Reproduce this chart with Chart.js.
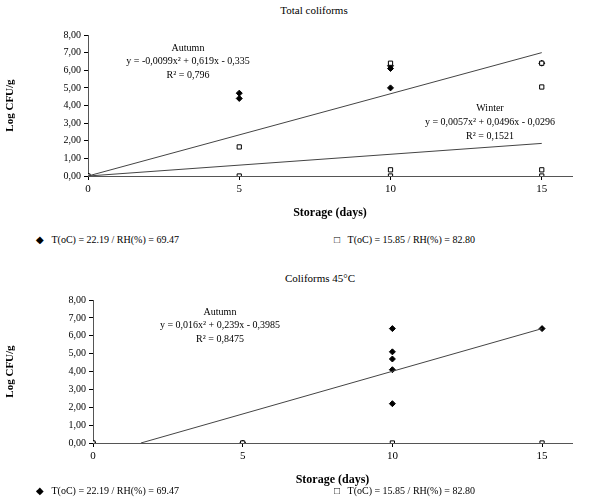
<!DOCTYPE html>
<html>
<head>
<meta charset="utf-8">
<script src="https://cdn.jsdelivr.net/npm/chart.js@4"></script>
<style>
  body { margin: 0; width: 600px; height: 500px; background: #fff; position: relative; font-family: "Liberation Serif", serif; }
  .box { position: absolute; left: 0; width: 600px; }
  .title { position: absolute; width: 600px; text-align: center; font-size: 11px; }
  .leg { position: absolute; font-size: 10px; }
</style>
</head>
<body>
<div class="title" style="top:4px;left:14px">Total coliforms</div>
<div class="box" style="top:0;height:220px"><canvas id="c1"></canvas></div>
<div class="leg" style="top:234px;left:36px">◆&nbsp;&nbsp;&nbsp;T(oC) = 22.19 / RH(%) = 69.47</div>
<div class="leg" style="top:234px;left:334px">□&nbsp;&nbsp;&nbsp;T(oC) = 15.85 / RH(%) = 82.80</div>

<div class="title" style="top:272px;left:20px">Coliforms 45°C</div>
<div class="box" style="top:250px;height:237px"><canvas id="c2"></canvas></div>
<div class="leg" style="top:485px;left:36px">◆&nbsp;&nbsp;&nbsp;T(oC) = 22.19 / RH(%) = 69.47</div>
<div class="leg" style="top:485px;left:334px">□&nbsp;&nbsp;&nbsp;T(oC) = 15.85 / RH(%) = 82.80</div>
<script>
/* global Chart */
// Total coliforms
const totAutumnX = [0, 5, 5, 10, 10, 10, 15]
const totAutumnY = [0, 4.7, 4.4, 6.1, 6.25, 5.0, 6.4]
const totWinterX = [0, 5, 5, 10, 10, 10, 15, 15, 15, 15]
const totWinterY = [0, 1.65, 0, 6.4, 0.35, 0, 6.4, 5.05, 0.35, 0]
const totAutumnTrendX = [0, 15]
const totAutumnTrendY = [0, 7.0]
const totWinterTrendX = [0, 15]
const totWinterTrendY = [0, 1.85]
// Coliforms 45°C
const c45AutumnX = [0, 5, 10, 10, 10, 10, 10, 15]
const c45AutumnY = [0, 0, 6.4, 5.1, 4.7, 4.1, 2.2, 6.4]
const c45WinterX = [0, 5, 10, 15]
const c45WinterY = [0, 0, 0, 0]
const c45TrendX = [1.6, 15]
const c45TrendY = [0, 6.4]
const yTicks = [0, 1, 2, 3, 4, 5, 6, 7, 8]
const xTicks = [0, 5, 10, 15]

const pts = (xs, ys) => xs.map((x, i) => ({ x, y: ys[i] }))
const FONT = 'Liberation Serif'

function textPlugin (labels) {
  return {
    id: 'eqText',
    afterDraw (chart) {
      const ctx = chart.ctx
      ctx.save()
      ctx.fillStyle = '#000'
      ctx.textAlign = 'center'
      labels.forEach(l => {
        ctx.font = (l.bold ? 'bold ' : '') + '10px "' + FONT + '"'
        ctx.fillText(l.t, l.x, l.y)
      })
      ctx.restore()
    }
  }
}

function makeChart (id, datasets, padTop, leftW, labels) {
  return new Chart(document.getElementById(id), {
    type: 'scatter',
    data: { datasets },
    options: {
      responsive: true,
      maintainAspectRatio: false,
      animation: false,
      layout: { padding: { top: padTop, right: 28, left: 0, bottom: 0 } },
      plugins: { legend: { display: false }, tooltip: { enabled: false } },
      scales: {
        x: {
          type: 'linear', min: 0, max: 16,
          afterBuildTicks: s => { s.ticks = xTicks.map(v => ({ value: v })) },
          afterFit: s => { s.height = 44 },
          grid: { drawOnChartArea: false, tickLength: 4, color: '#000' },
          border: { color: '#555' },
          ticks: { color: '#000', font: { family: FONT, size: 11 } },
          title: { display: true, text: 'Storage (days)', color: '#000', font: { family: FONT, size: 12, weight: 'bold' }, padding: 0 }
        },
        y: {
          min: 0, max: 8,
          afterBuildTicks: s => { s.ticks = yTicks.map(v => ({ value: v })) },
          afterFit: s => { s.width = leftW },
          grid: { drawOnChartArea: false, tickLength: 4, color: '#000' },
          border: { color: '#555' },
          ticks: { color: '#000', font: { family: FONT, size: 10 }, callback: v => v.toFixed(2).replace('.', ',') },
          title: { display: true, text: 'Log CFU/g', color: '#000', font: { family: FONT, size: 11, weight: 'bold' } }
        }
      }
    },
    plugins: [textPlugin(labels)]
  })
}

const autumnStyle = { pointStyle: 'rectRot', pointRadius: 3, backgroundColor: '#000', borderColor: '#000', showLine: false }
const winterStyle = { pointStyle: 'rect', pointRadius: 3, backgroundColor: '#fff', borderColor: '#000', borderWidth: 1, showLine: false }
const lineStyle = { showLine: true, pointRadius: 0, borderColor: '#444', borderWidth: 1, fill: false }

makeChart('c1', [
  Object.assign({ data: pts(totAutumnTrendX, totAutumnTrendY) }, lineStyle),
  Object.assign({ data: pts(totWinterTrendX, totWinterTrendY) }, lineStyle),
  Object.assign({ data: pts(totWinterX, totWinterY) }, winterStyle),
  Object.assign({ data: pts(totAutumnX, totAutumnY) }, autumnStyle)
], 35, 88, [
  { t: 'Autumn', x: 188, y: 51 },
  { t: 'y = -0,0099x² + 0,619x - 0,335', x: 188, y: 64 },
  { t: 'R² = 0,796', x: 188, y: 78 },
  { t: 'Winter', x: 490, y: 111 },
  { t: 'y = 0,0057x² + 0,0496x - 0,0296', x: 490, y: 125 },
  { t: 'R² = 0,1521', x: 490, y: 139 }
])

makeChart('c2', [
  Object.assign({ data: pts(c45TrendX, c45TrendY) }, lineStyle),
  Object.assign({ data: pts(c45WinterX, c45WinterY) }, winterStyle),
  Object.assign({ data: pts(c45AutumnX, c45AutumnY) }, autumnStyle)
], 50, 93, [
  { t: 'Autumn', x: 220, y: 65 },
  { t: 'y = 0,016x² + 0,239x - 0,3985', x: 220, y: 78 },
  { t: 'R² = 0,8475', x: 220, y: 92 }
])
</script>
</body>
</html>
